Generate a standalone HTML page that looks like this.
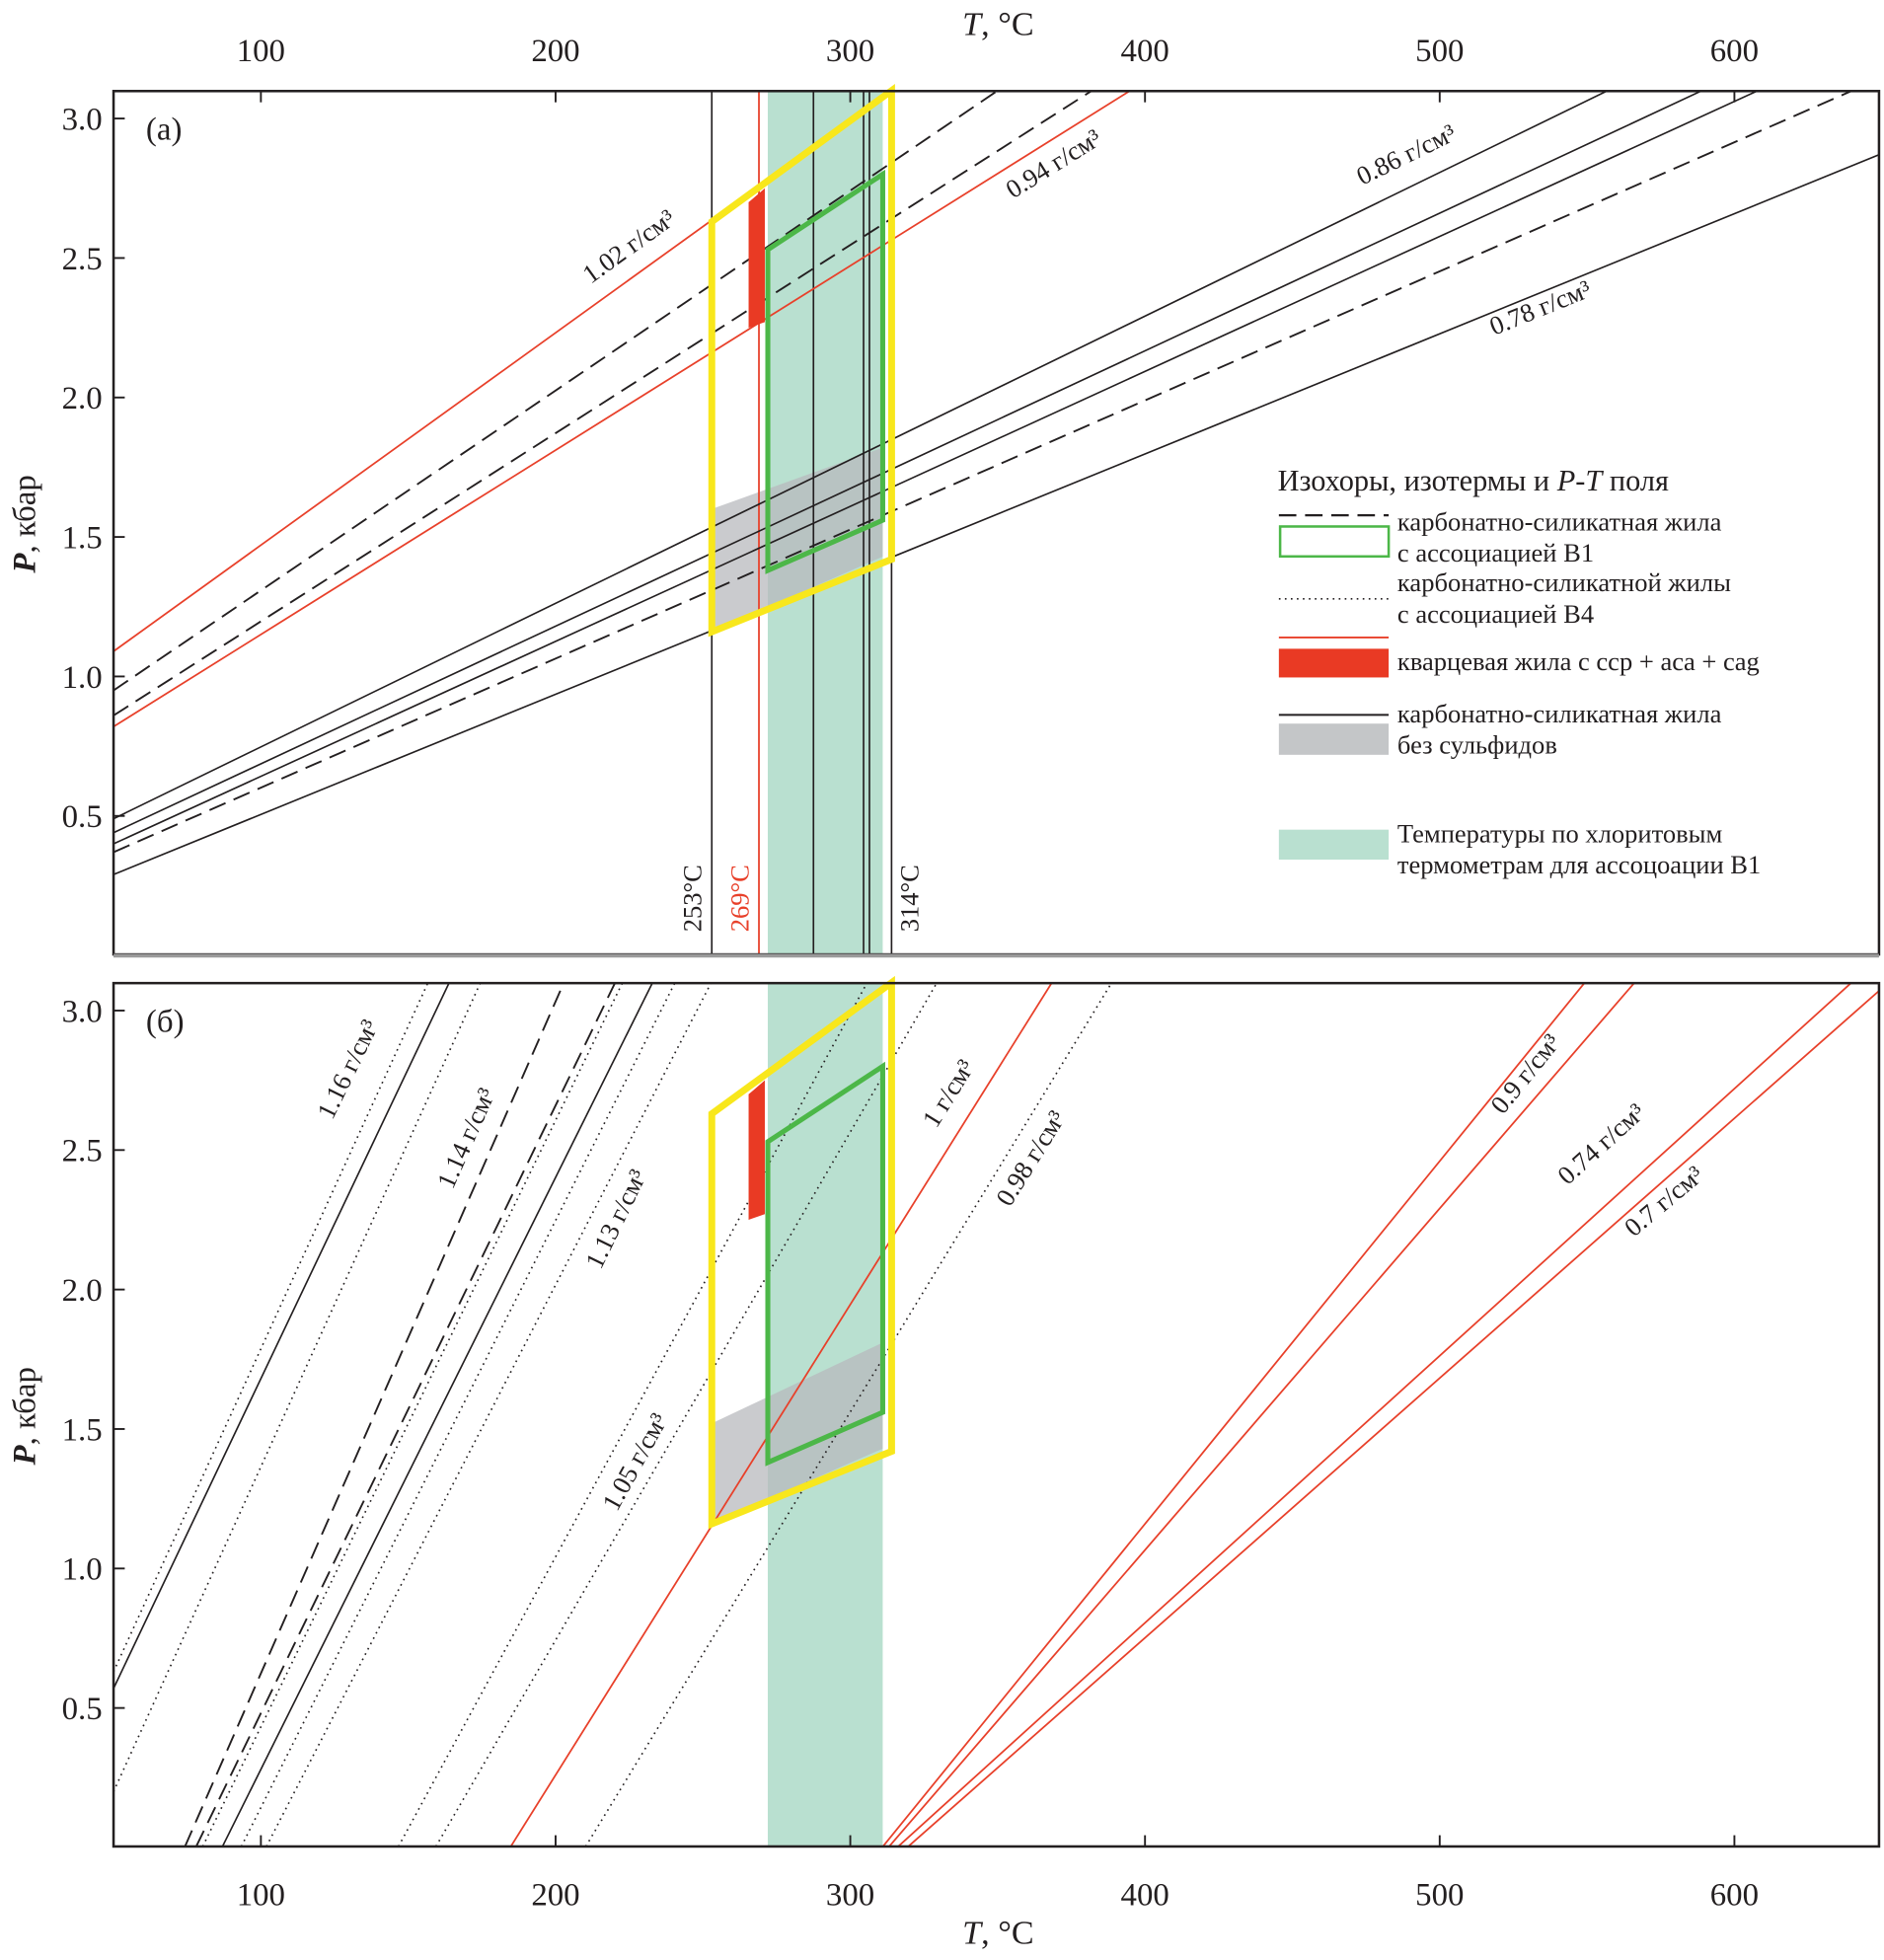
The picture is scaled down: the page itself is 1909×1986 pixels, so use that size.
<!DOCTYPE html>
<html><head><meta charset="utf-8"><style>
html,body{margin:0;padding:0;background:#fff;overflow:hidden;width:1909px;height:1986px}
svg{display:block;overflow:hidden}
text{font-family:"Liberation Serif",serif;fill:#231f20}
</style></head><body>
<svg id="chart" width="1909" height="1986" viewBox="0 0 1510 1571" preserveAspectRatio="none" xmlns="http://www.w3.org/2000/svg">
<defs>
<clipPath id="clipA"><rect x="91" y="73" width="1415" height="692"/></clipPath>
<clipPath id="clipB"><rect x="91" y="788" width="1415" height="692"/></clipPath>
</defs>
<g id="gA"></g>
<g id="gB"></g>
<g id="legend">
<text x="1024" y="393" font-size="24">Изохоры, изотермы и <tspan font-style="italic">P</tspan>-<tspan font-style="italic">T</tspan> поля</text>
<line x1="1025" y1="413" x2="1113" y2="413" stroke="#231f20" stroke-width="1.8" stroke-dasharray="14 7"/>
<rect x="1026" y="422" width="87" height="24" fill="none" stroke="#4cb748" stroke-width="2"/>
<text x="1120" y="425" font-size="21">карбонатно-силикатная жила</text>
<text x="1120" y="450" font-size="21">с ассоциацией B1</text>
<text x="1120" y="474" font-size="21">карбонатно-силикатной жилы</text>
<line x1="1025" y1="480" x2="1113" y2="480" stroke="#231f20" stroke-width="1.3" stroke-dasharray="1.3 3.5"/>
<text x="1120" y="499" font-size="21">с ассоциацией B4</text>
<line x1="1025" y1="511" x2="1113" y2="511" stroke="#e8402a" stroke-width="1.5"/>
<rect x="1025" y="520" width="88" height="23" fill="#e93a24"/>
<text x="1120" y="537" font-size="21">кварцевая жила с ccp + aca + cag</text>
<line x1="1025" y1="573" x2="1113" y2="573" stroke="#231f20" stroke-width="1.5"/>
<rect x="1025" y="580" width="88" height="25" fill="#c4c6c8"/>
<text x="1120" y="579" font-size="21">карбонатно-силикатная жила</text>
<text x="1120" y="604" font-size="21">без сульфидов</text>
<rect x="1025" y="665" width="88" height="24" fill="#b9e0d0"/>
<text x="1120" y="675" font-size="21">Температуры по хлоритовым</text>
<text x="1120" y="700" font-size="21">термометрам для ассоцоации B1</text>
</g>
</svg>
<script>
// ---- data ----
const xTicks = [100, 200, 300, 400, 500, 600];
const yTicks = [0.5, 1.0, 1.5, 2.0, 2.5, 3.0];
// panel (a) isochores: two points each (T, P)
const aT0 = [50, 50, 50, 50, 50, 50, 50, 50, 50];
const aP0 = [1.09, 0.95, 0.86, 0.82, 0.49, 0.44, 0.40, 0.37, 0.29];
const aT1 = [314, 350, 382, 395, 557, 589, 608, 640, 649];
const aP1 = [3.1, 3.1, 3.1, 3.1, 3.1, 3.1, 3.1, 3.1, 2.87];
const aStyle = ['red', 'dash', 'dash', 'red', 'solid', 'solid', 'solid', 'dash', 'solid'];
// panel (a) isotherms
const isoT = [253, 269, 287.5, 304.5, 306.5, 314];
const isoStyle = ['solid', 'red', 'solid', 'solid', 'solid', 'solid'];
// panel (b) isochores
const bT0 = [50, 50, 50, 74.1, 77.9, 80.1, 86.8, 93.2, 101.7, 146.5, 159.2, 184.6, 210, 310.8, 312.9, 315.9, 319.3];
const bP0 = [0.63, 0.57, 0.20, 0, 0, 0, 0, 0, 0, 0, 0, 0, 0, 0, 0, 0, 0];
const bT1 = [156.7, 163.9, 174.5, 202.8, 220.2, 222.7, 232.9, 240.5, 252.8, 305.7, 329.4, 368.4, 388.7, 549.2, 566.1, 639.7, 649];
const bP1 = [3.1, 3.1, 3.1, 3.1, 3.1, 3.1, 3.1, 3.1, 3.1, 3.1, 3.1, 3.1, 3.1, 3.1, 3.1, 3.1, 3.07];
const bStyle = ['dot', 'solid', 'dot', 'dash', 'dash', 'dot', 'solid', 'dot', 'dot', 'dot', 'dot', 'red', 'dot', 'red', 'red', 'red', 'red'];
// fields
const chloriteT = [272, 311];
const yellowT = [253, 314, 314, 253];
const yellowP = [2.63, 3.1, 1.42, 1.16];
const greenT = [272, 311, 311, 272];
const greenP = [2.53, 2.8, 1.56, 1.38];
const redT = [265.5, 271, 271, 265.5];
const redP = [2.70, 2.75, 2.27, 2.25];
const grayAT = [253, 311, 311, 253];
const grayAP = [1.60, 1.82, 1.43, 1.16];
const grayBT = [253, 311, 311, 253];
const grayBP = [1.52, 1.81, 1.43, 1.16];

// ---- axes ----
const X0 = 91, X1 = 1506;
function xT(t) { return 91 + (t - 50) * 2.362; }
function yA(p) { return 654 - (p - 0.5) * 223.6; }
function yB(p) { return 1369 - (p - 0.5) * 223.6; }
const NS = 'http://www.w3.org/2000/svg';
function mk(tag, parent, attrs) {
  const e = document.createElementNS(NS, tag);
  for (const k in attrs) e.setAttribute(k, attrs[k]);
  parent.appendChild(e);
  return e;
}
function strokeOf(s) {
  if (s === 'red') return { stroke: '#e8402a', 'stroke-width': 1.4 };
  if (s === 'dash') return { stroke: '#231f20', 'stroke-width': 1.5, 'stroke-dasharray': '14 7' };
  if (s === 'dot') return { stroke: '#231f20', 'stroke-width': 1.3, 'stroke-dasharray': '1.3 3.5' };
  return { stroke: '#231f20', 'stroke-width': 1.3 };
}
// infinite line through two data points clipped to rect (Liang-Barsky)
function clipLine(t0, p0, t1, p1, yf, top, bottom) {
  const x0 = xT(t0), y0 = yf(p0), dx = xT(t1) - x0, dy = yf(p1) - y0;
  let u0 = -1e6, u1 = 1e6;
  const P = [-dx, dx, -dy, dy], Q = [x0 - X0, X1 - x0, y0 - top, bottom - y0];
  for (let i = 0; i < 4; i++) {
    if (P[i] === 0) { if (Q[i] < 0) return null; continue; }
    const r = Q[i] / P[i];
    if (P[i] < 0) { if (r > u0) u0 = r; } else { if (r < u1) u1 = r; }
  }
  if (u0 > u1) return null;
  return [x0 + u0 * dx, y0 + u0 * dy, x0 + u1 * dx, y0 + u1 * dy];
}
function poly(T, P, yf) { return T.map((t, i) => xT(t).toFixed(1) + ',' + yf(P[i]).toFixed(1)).join(' '); }

function panel(g, yf, top, bottom, clipId, which) {
  const cg = mk('g', g, { 'clip-path': 'url(#' + clipId + ')' });
  
  
  const band = mk('rect', cg, { x: xT(chloriteT[0]), y: top, width: xT(chloriteT[1]) - xT(chloriteT[0]), height: bottom - top, fill: '#b9e0d0' });
  
  
  const gp = mk('polygon', cg, { points: poly(which === 'a' ? grayAT : grayBT, which === 'a' ? grayAP : grayBP, yf), fill: '#b8babd', 'fill-opacity': 0.75 });
  
  
  if (which === 'a') {
    isoT.forEach((t, i) => {
      const l = mk('line', cg, Object.assign({ x1: xT(t), y1: top, x2: xT(t), y2: bottom }, strokeOf(isoStyle[i])));
      
      
    });
  }
  const T0 = which === 'a' ? aT0 : bT0, P0 = which === 'a' ? aP0 : bP0, T1 = which === 'a' ? aT1 : bT1, P1 = which === 'a' ? aP1 : bP1, S = which === 'a' ? aStyle : bStyle;
  T0.forEach((t, i) => {
    const c = clipLine(t, P0[i], T1[i], P1[i], yf, top, bottom);
    if (!c) return;
    const l = mk('line', cg, Object.assign({ x1: c[0], y1: c[1], x2: c[2], y2: c[3] }, strokeOf(S[i])));
    
    
  });
  const rp = mk('polygon', cg, { points: poly(redT, redP, yf), fill: '#e93a24' });
  
  
  const gr = mk('polygon', cg, { points: poly(greenT, greenP, yf), fill: 'none', stroke: '#4cb748', 'stroke-width': 4 });
  
  
  const yl = mk('polygon', g, { points: poly(yellowT, yellowP, yf), fill: 'none', stroke: '#f8e71c', 'stroke-width': 5.5 });
  
  
  const fr = mk('rect', g, { x: X0, y: top, width: X1 - X0, height: bottom - top, fill: 'none', stroke: '#231f20', 'stroke-width': 2 });
  
  
  yTicks.forEach(p => {
    const tk = mk('line', g, { x1: X0, y1: yf(p), x2: X0 + 9, y2: yf(p), stroke: '#231f20', 'stroke-width': 1.5 });
    
    
    const tx = mk('text', g, { x: 82, y: yf(p) + 9, 'font-size': 26, 'text-anchor': 'end' });
    tx.textContent = p.toFixed(1);
    
    
  });
  xTicks.forEach(t => {
    const yy = which === 'a' ? top : bottom;
    const tk = mk('line', g, { x1: xT(t), y1: yy, x2: xT(t), y2: which === 'a' ? yy + 9 : yy - 9, stroke: '#231f20', 'stroke-width': 1.5 });
    
    
    const tx = mk('text', g, { x: xT(t), y: which === 'a' ? 49 : 1527, 'font-size': 26, 'text-anchor': 'middle' });
    tx.textContent = String(t);
    
    
  });
  const yt = mk('text', g, { x: 0, y: 0, 'font-size': 26, 'text-anchor': 'middle', transform: 'translate(28,' + ((top + bottom) / 2 + 1) + ') rotate(-90)' });
  yt.innerHTML = '<tspan font-style="italic" font-weight="bold">P</tspan>, кбар';
  
  
  const pl = mk('text', g, { x: 117, y: top + 39, 'font-size': 26 });
  pl.textContent = which === 'a' ? '(a)' : '(б)';
  
  
}
function label(g, txt, x, y, ang, color, name) {
  const t = mk('text', g, { x: 0, y: 0, 'font-size': 21, 'text-anchor': 'middle', transform: 'translate(' + x + ',' + y + ') rotate(' + ang + ')' });
  if (color) t.setAttribute('style', 'fill:' + color);
  t.textContent = txt;
  
  
}
const gA = document.getElementById('gA'), gB = document.getElementById('gB');
panel(gA, yA, 73, 765, 'clipA', 'a');
panel(gB, yB, 788, 1480, 'clipB', 'b');
const gl = mk('line', gA, { x1: X0, y1: 766, x2: X1, y2: 766, stroke: '#9a9a9a', 'stroke-width': 3 });


const tt = mk('text', gA, { x: 800, y: 28, 'font-size': 27, 'text-anchor': 'middle' });
tt.innerHTML = '<tspan font-style="italic">T</tspan>, °C';


const tb = mk('text', gB, { x: 800, y: 1558, 'font-size': 27, 'text-anchor': 'middle' });
tb.innerHTML = '<tspan font-style="italic">T</tspan>, °C';


label(gA, '253°C', 562, 720, -90, null, 'isotherm-label-253');
label(gA, '269°C', 600, 720, -90, '#e8402a', 'isotherm-label-269');
label(gA, '314°C', 736, 720, -90, null, 'isotherm-label-314');
label(gA, '1.02 г/см³', 508, 203, -35.8, null, 'isochore-label-1.02');
label(gA, '0.94 г/см³', 848, 137, -32, null, 'isochore-label-0.94');
label(gA, '0.86 г/см³', 1130, 130, -26, null, 'isochore-label-0.86');
label(gA, '0.78 г/см³', 1237, 253, -22, null, 'isochore-label-0.78');
label(gB, '1.16 г/см³', 285, 860, -64, null, 'isochore-label-1.16');
label(gB, '1.14 г/см³', 380, 915, -66, null, 'isochore-label-1.14');
label(gB, '1.13 г/см³', 500, 980, -64, null, 'isochore-label-1.13');
label(gB, '1.05 г/см³', 515, 1175, -61, null, 'isochore-label-1.05');
label(gB, '1 г/см³', 766, 880, -58, null, 'isochore-label-1');
label(gB, '0.98 г/см³', 832, 932, -58, null, 'isochore-label-0.98');
label(gB, '0.9 г/см³', 1228, 865, -51, null, 'isochore-label-0.9');
label(gB, '0.74 г/см³', 1288, 922, -42, null, 'isochore-label-0.74');
label(gB, '0.7 г/см³', 1338, 968, -40, null, 'isochore-label-0.7');
</script>
</body></html>
